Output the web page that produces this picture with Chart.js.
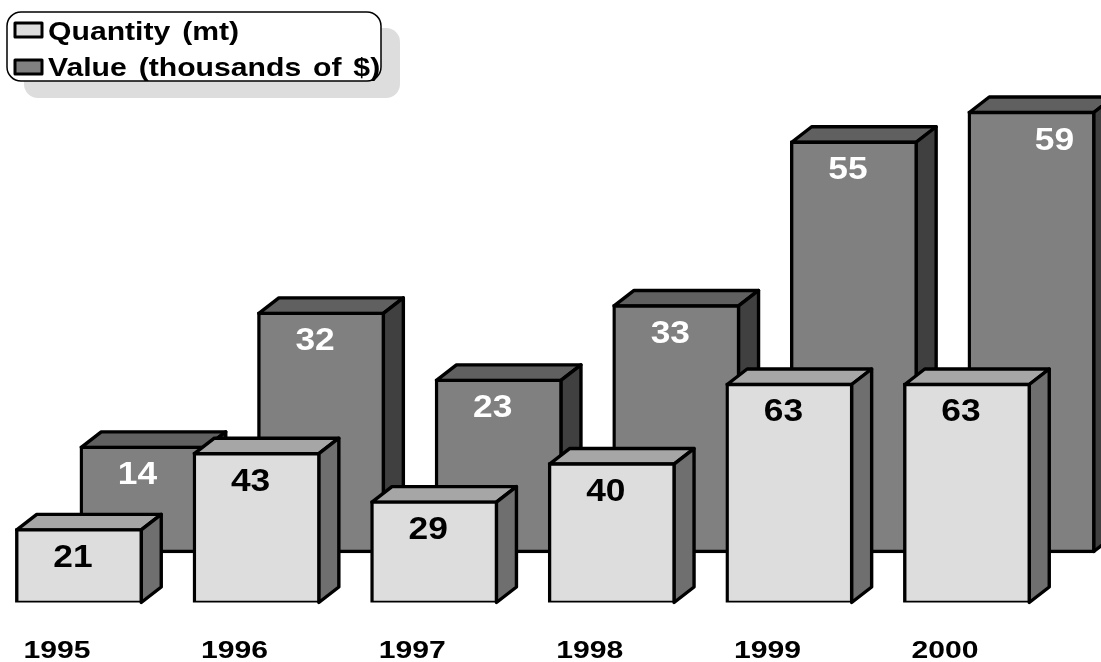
<!DOCTYPE html>
<html>
<head>
<meta charset="utf-8">
<title>Quantity and value</title>
<script src="https://cdn.jsdelivr.net/npm/chart.js@4/dist/chart.umd.min.js"></script>
<style>
    body { margin: 0; background: #fff; }
    canvas { display: block; }
</style>
</head>
<body>
<canvas id="chart" width="1101" height="662"></canvas>
<script>
const years = [1995, 1996, 1997, 1998, 1999, 2000];
const quantity = [21, 43, 29, 40, 63, 63];
const value = [14, 32, 23, 33, 55, 59];

const FONT = '"Liberation Sans", Arial, sans-serif';
const depthX = 20;
const depthY = 15.5;
const outline = 3.4;

// Chart.js has no horizontally stretched text, the original has, so scale the context
function wideText(ctx, text, x, y, size, stretch, color, align, wordGap) {
    ctx.save();
    ctx.font = 'bold ' + size + 'px ' + FONT;
    ctx.fillStyle = color;
    ctx.textAlign = align;
    ctx.textBaseline = 'alphabetic';
    ctx.wordSpacing = (wordGap || 0) + 'px';
    ctx.translate(x, y);
    ctx.scale(stretch, 1);
    ctx.fillText(text, 0, 0);
    ctx.restore();
}

function face(ctx, points, color) {
    ctx.beginPath();
    points.forEach((p, i) => i ? ctx.lineTo(p[0], p[1]) : ctx.moveTo(p[0], p[1]));
    ctx.closePath();
    ctx.fillStyle = color;
    ctx.fill();
    ctx.lineWidth = outline;
    ctx.lineJoin = 'round';
    ctx.strokeStyle = '#000';
    ctx.stroke();
}

// top and side of every bar, from the bar elements the library laid out
const boxFaces = {
    id: 'boxFaces',
    beforeDatasetDraw(chart, args) {
        const ctx = chart.ctx;
        const ds = chart.data.datasets[args.index];
        args.meta.data.forEach(bar => {
            const p = bar.getProps(['x', 'y', 'base', 'width']);
            const l = p.x - p.width / 2, r = p.x + p.width / 2;
            face(ctx, [[l, p.y], [l + depthX, p.y - depthY], [r + depthX, p.y - depthY], [r, p.y]], ds.topColor);
            face(ctx, [[r, p.y], [r + depthX, p.y - depthY], [r + depthX, p.base - depthY], [r, p.base]], ds.sideColor);
        });
    },
    afterDatasetDraw(chart, args) {
        const ds = chart.data.datasets[args.index];
        args.meta.data.forEach((bar, i) => {
            // the last Value label sits off centre in the original
            const shift = (args.index === 1 && i === 5) ? 23 : -6;
            wideText(chart.ctx, String(ds.data[i].y), bar.x + shift, bar.y + 37, 31, 1.14, ds.labelColor, 'center');
        });
    }
};

const boxLegend = {
    id: 'boxLegend',
    afterDraw(chart) {
        const ctx = chart.ctx;
        const sets = chart.data.datasets;

        chart.scales.x.ticks.forEach(tick => {
            wideText(ctx, String(tick.value), chart.scales.x.getPixelForValue(tick.value) - 22, 658, 23, 1.31, '#000', 'center');
        });

        ctx.save();
        ctx.beginPath();
        ctx.roundRect(24, 28, 376, 70, 14);
        ctx.fillStyle = '#dddddd';
        ctx.fill();
        ctx.beginPath();
        ctx.roundRect(7, 12, 374, 69, 14);
        ctx.fillStyle = '#fff';
        ctx.fill();
        ctx.lineWidth = 1.5;
        ctx.strokeStyle = '#000';
        ctx.stroke();

        sets.forEach((ds, i) => {
            const top = 23 + i * 37;
            ctx.fillStyle = ds.backgroundColor;
            ctx.fillRect(15, top, 27, 14);
            ctx.lineWidth = 3;
            ctx.strokeStyle = '#000';
            ctx.strokeRect(15, top, 27, 14);
            wideText(ctx, ds.label, 48, 40 + i * 36, 26, 1.16, '#000', 'left', 3);
        });
        ctx.restore();
    }
};

new Chart(document.getElementById('chart').getContext('2d'), {
    type: 'bar',
    data: {
        datasets: [{
            label: 'Quantity (mt)',
            data: years.map((y, i) => ({ x: y, y: quantity[i] })),
            xAxisID: 'x',
            yAxisID: 'y',
            backgroundColor: '#dddddd',
            topColor: '#a6a6a6',
            sideColor: '#6f6f6f',
            labelColor: '#000'
        }, {
            label: 'Value (thousands of $)',
            data: years.map((y, i) => ({ x: y, y: value[i] })),
            xAxisID: 'x2',
            yAxisID: 'y2',
            backgroundColor: '#808080',
            topColor: '#606060',
            sideColor: '#404040',
            labelColor: '#fff'
        }]
    },
    options: {
        responsive: false,
        animation: false,
        layout: { padding: { bottom: 59.5 } },
        datasets: {
            bar: {
                barThickness: 124.5,
                borderColor: '#000',
                borderWidth: outline,
                borderSkipped: false,
                inflateAmount: outline / 2,
                grouped: false
            }
        },
        plugins: {
            legend: { display: false },
            tooltip: { enabled: false }
        },
        scales: {
            // each series has its own axis pair: the Value bars stand further back and higher up
            x: { type: 'linear', display: false, offset: false, min: 1994.5552, max: 2000.7545, ticks: { stepSize: 1, includeBounds: false } },
            x2: { type: 'linear', display: false, offset: false, min: 1994.192, max: 2000.3913, ticks: { stepSize: 1, includeBounds: false } },
            y: { display: false, min: 0, max: 174.1 },
            y2: { display: false, min: -6.855, max: 74.12 }
        }
    },
    plugins: [boxFaces, boxLegend]
});
</script>
</body>
</html>
